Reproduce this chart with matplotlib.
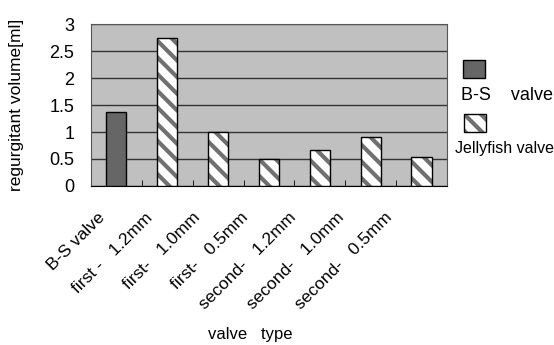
import matplotlib
matplotlib.use("Agg")
import matplotlib.pyplot as plt
from matplotlib.patches import Rectangle

categories = ["B-S valve", "first -   1.2mm", "first-   1.0mm", "first-   0.5mm",
              "second-   1.2mm", "second-   1.0mm", "second-   0.5mm"]
volumes = [1.37, 2.74, 1.0, 0.5, 0.67, 0.91, 0.53]
is_jellyfish = [False, True, True, True, True, True, True]
yticks = [0, 0.5, 1, 1.5, 2, 2.5, 3]
ytick_labels = ["0", "0.5", "1", "1.5", "2", "2.5", "3"]

plt.rcParams["font.family"] = ["Liberation Sans", "DejaVu Sans"]
plt.rcParams["hatch.linewidth"] = 3.0

HATCH_GRAY = "#707070"

fig = plt.figure(figsize=(5.54, 3.45), dpi=100)
ax = fig.add_axes([0.164, 0.461, 0.643, 0.469])
ax.set_facecolor("#c0c0c0")

x = list(range(len(categories)))
for xi, v, jf in zip(x, volumes, is_jellyfish):
    if jf:
        # hatch in gray, then a black outline on top
        ax.bar(xi, v, width=0.4, facecolor="white", edgecolor=HATCH_GRAY,
               hatch="\\\\", linewidth=0, zorder=3)
        ax.bar(xi, v, width=0.4, facecolor="none", edgecolor="black",
               linewidth=1, zorder=4)
    else:
        ax.bar(xi, v, width=0.4, color="#666666", edgecolor="black",
               linewidth=1, zorder=3)

ax.set_xlim(-0.5, len(categories) - 0.5)
ax.set_ylim(0, 3)
ax.set_yticks(yticks)
ax.set_yticklabels(ytick_labels, fontsize=13)
ax.yaxis.grid(True, color="#333333", linewidth=1)
ax.set_axisbelow(True)
ax.tick_params(axis="y", length=0, pad=12)

# category labels sit a little left of the bars, drifting slightly as in the original
ax.set_xticks([i + 0.5 for i in x[:-1]], minor=True)
ax.set_xticks([i - (14 + 3 * i) / 51 for i in x])
ax.set_xticklabels(categories, rotation=45, ha="right", va="center",
                   rotation_mode="anchor", fontsize=12.5)
ax.tick_params(axis="x", which="major", length=0, pad=21)
ax.tick_params(axis="x", which="minor", direction="in", length=4, color="black")
for s in ax.spines.values():
    s.set_color("#555555")
ax.spines["bottom"].set_color("black")

ax.set_ylabel("regurgitant volume[ml]", fontsize=12.5)
ax.yaxis.set_label_coords(-0.188, 0.5)
fig.text(250 / 554, 1 - 335 / 345, "valve   type", fontsize=12,
         ha="center", va="center")

# legend drawn manually: swatch above label
fig.patches.append(Rectangle((463 / 554, 1 - 78 / 345), 22 / 554, 18 / 345,
                             transform=fig.transFigure, facecolor="#666666",
                             edgecolor="black", linewidth=1))
fig.text(461 / 554, 1 - 95 / 345, "B-S    valve", fontsize=13, va="center")
fig.patches.append(Rectangle((464 / 554, 1 - 132 / 345), 22 / 554, 18 / 345,
                             transform=fig.transFigure, facecolor="white",
                             edgecolor=HATCH_GRAY, linewidth=0, hatch="\\\\"))
fig.patches.append(Rectangle((464 / 554, 1 - 132 / 345), 22 / 554, 18 / 345,
                             transform=fig.transFigure, facecolor="none",
                             edgecolor="black", linewidth=1))
fig.text(455 / 554, 1 - 148 / 345, "Jellyfish valve", fontsize=11.5, va="center")

fig.savefig("out.png", dpi=100)
